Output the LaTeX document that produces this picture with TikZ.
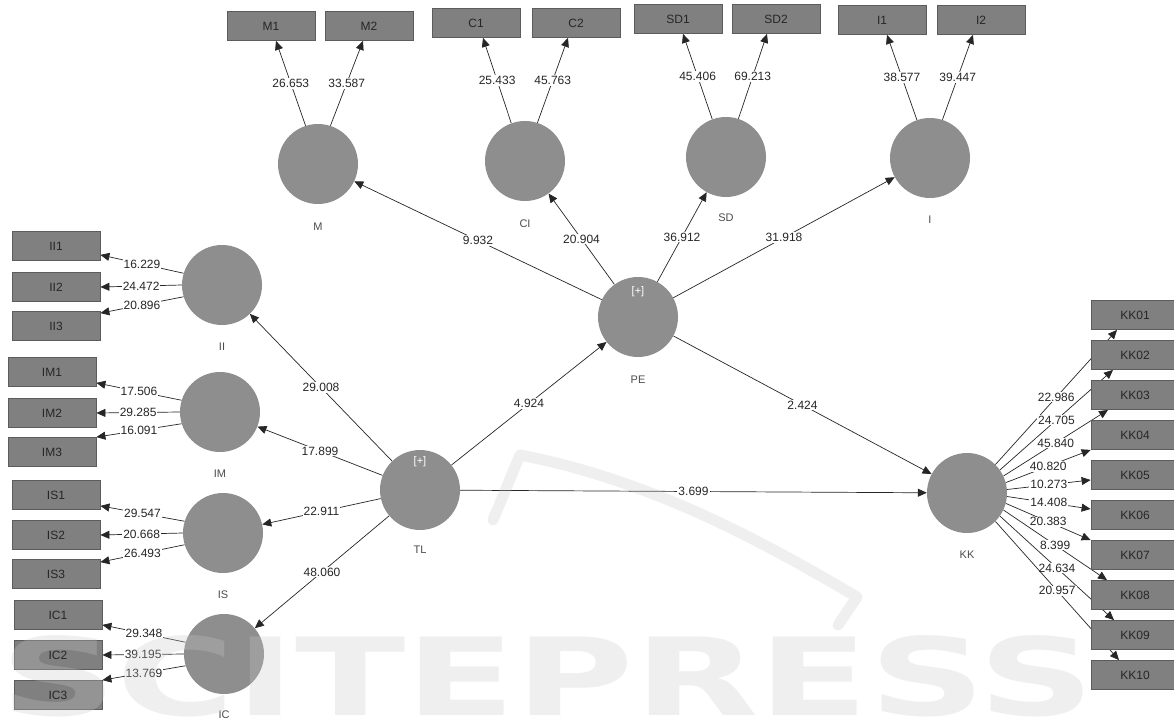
\documentclass[tikz,border=0pt]{standalone}
\usepackage{fontspec}
\setmainfont{Liberation Sans}
\newfontfamily\wmfont{DejaVu Sans}
\usetikzlibrary{arrows.meta}
\definecolor{circ}{RGB}{142,142,142}
\definecolor{boxf}{RGB}{128,128,128}
\definecolor{boxd}{RGB}{92,92,92}
\definecolor{wm}{RGB}{200,200,200}
\pgfdeclarelayer{back}
\pgfdeclarelayer{edges}
\pgfdeclarelayer{front}
\pgfsetlayers{back,edges,main,front}
\begin{document}
\begin{tikzpicture}[x=1pt,y=-1pt,
 lat/.style={circle,fill=circ,minimum size=80pt,inner sep=0pt},
 ind/.style={rectangle,fill=boxf,draw=boxd,line width=0.8pt,minimum width=88pt,minimum height=29pt,inner sep=0pt,font=\fontsize{12}{13}\selectfont,text=black!85},
 captxt/.style={font=\fontsize{11}{12}\selectfont,text=black!70},
 plus/.style={font=\fontsize{11}{12}\selectfont,text=white},
 arr/.style={draw=black!85,line width=0.7pt,-{Triangle[length=9pt,width=8pt]}},
 val/.style={fill=white,inner sep=1pt,font=\fontsize{12}{13}\selectfont,text=black!85},
]
\begin{pgfonlayer}{back}
\fill[white] (0,0) rectangle (1174,722);
\end{pgfonlayer}
\useasboundingbox (0,0) rectangle (1174,722);

% latent variables
\node[lat] (M) at (318,164) {};
\node[lat] (CI) at (525,161) {};
\node[lat] (SD) at (726,157) {};
\node[lat] (I) at (930,158) {};
\node[lat] (II) at (222,285) {};
\node[lat] (IM) at (220,412) {};
\node[lat] (IS) at (223,533) {};
\node[lat] (IC) at (224,654) {};
\node[lat] (TL) at (420,490) {};
\node[lat] (PE) at (638,317) {};
\node[lat] (KK) at (967,493) {};

% captions
\node[captxt] (Mc) at (318,227) {M};
\node[captxt] (CIc) at (525,224) {CI};
\node[captxt] (SDc) at (726,218) {SD};
\node[captxt] (Ic) at (930,220) {I};
\node[captxt] (IIc) at (222,347) {II};
\node[captxt] (IMc) at (220,474) {IM};
\node[captxt] (ISc) at (223,595) {IS};
\node[captxt] (ICc) at (224,715) {IC};
\node[captxt] (TLc) at (420,550) {TL};
\node[captxt] (PEc) at (638,380) {PE};
\node[captxt] (KKc) at (967,555) {KK};
\node[plus] (TLp) at (420,462) {[+]};
\node[plus] (PEp) at (638,292) {[+]};

% indicators top
\node[ind] (M1) at (271,26) {M1};
\node[ind] (M2) at (369,26) {M2};
\node[ind] (C1) at (476,23) {C1};
\node[ind] (C2) at (576,23) {C2};
\node[ind] (SD1) at (678,19) {SD1};
\node[ind] (SD2) at (776,19) {SD2};
\node[ind] (I1) at (882,20) {I1};
\node[ind] (I2) at (981,20) {I2};

% indicators left
\node[ind] (II1) at (56,246) {II1};
\node[ind] (II2) at (56,287) {II2};
\node[ind] (II3) at (56,326) {II3};
\node[ind] (IM1) at (52,372) {IM1};
\node[ind] (IM2) at (52,413) {IM2};
\node[ind] (IM3) at (52,452) {IM3};
\node[ind] (IS1) at (56,495) {IS1};
\node[ind] (IS2) at (56,535) {IS2};
\node[ind] (IS3) at (56,574) {IS3};
\node[ind] (IC1) at (58,615) {IC1};
\node[ind] (IC2) at (58,655) {IC2};
\node[ind] (IC3) at (58,695) {IC3};

% indicators right
\foreach \k [count=\i from 0] in {01,02,03,04,05,06,07,08,09,10}{
  \node[ind] (KK\k) at (1135,315+40*\i) {KK\k};
}

\begin{pgfonlayer}{edges}
% top indicators
\draw[arr] (M.108) -- ([xshift=5pt]M1.south) node[val,midway]{26.653};
\draw[arr] (M.72) -- ([xshift=-6pt]M2.south) node[val,midway]{33.587};
\draw[arr] (CI.110) -- ([xshift=7pt]C1.south) node[val,midway]{25.433};
\draw[arr] (CI.72) -- ([xshift=-8pt]C2.south) node[val,midway]{45.763};
\draw[arr] (SD.110) -- ([xshift=5pt]SD1.south) node[val,midway]{45.406};
\draw[arr] (SD.72) -- ([xshift=-9pt]SD2.south) node[val,midway]{69.213};
\draw[arr] (I.109) -- ([xshift=5pt]I1.south) node[val,midway]{38.577};
\draw[arr] (I.72) -- ([xshift=-8pt]I2.south) node[val,midway]{39.447};
% left indicators
\draw[arr] (II.163) -- ([yshift=6pt]II1.south east) node[val,midway]{16.229};
\draw[arr] (II.180) -- (II2.east) node[val,midway]{24.472};
\draw[arr] (II.197) -- ([yshift=-2pt]II3.north east) node[val,midway]{20.896};
\draw[arr] (IM.163) -- ([yshift=4pt]IM1.south east) node[val,midway]{17.506};
\draw[arr] (IM.180) -- (IM2.east) node[val,midway]{29.285};
\draw[arr] (IM.197) -- (IM3.north east) node[val,midway]{16.091};
\draw[arr] (IS.163) -- ([yshift=4pt]IS1.south east) node[val,midway]{29.547};
\draw[arr] (IS.180) -- (IS2.east) node[val,midway]{20.668};
\draw[arr] (IS.197) -- ([yshift=-3pt]IS3.north east) node[val,midway]{26.493};
\draw[arr] (IC.163) -- ([yshift=5pt]IC1.south east) node[val,midway]{29.348};
\draw[arr] (IC.180) -- (IC2.east) node[val,midway]{39.195};
\draw[arr] (IC.197) -- (IC3.north east) node[val,midway]{13.769};
% right indicators
\draw[arr] (KK.45) -- ([xshift=-18pt]KK01.south) node[val,midway]{22.986};
\draw[arr] (KK.35) -- ([xshift=-22pt]KK02.south) node[val,midway]{24.705};
\draw[arr] (KK.25) -- ([xshift=-27pt]KK03.south) node[val,midway]{45.840};
\draw[arr] (KK.15) -- (KK04.south west) node[val,midway]{40.820};
\draw[arr] (KK.5) -- ([yshift=-5pt]KK05.west) node[val,midway]{10.273};
\draw[arr] (KK.-5) -- ([yshift=6pt]KK06.west) node[val,midway]{14.408};
\draw[arr] (KK.-15) -- (KK07.north west) node[val,midway]{20.383};
\draw[arr] (KK.-25) -- ([xshift=-28pt]KK08.north) node[val,midway]{8.399};
\draw[arr] (KK.-35) -- ([xshift=-21pt]KK09.north) node[val,midway]{24.634};
\draw[arr] (KK.-45) -- ([xshift=-16pt]KK10.north) node[val,midway]{20.957};
% structural paths
\draw[arr] (PE) -- (M) node[val,midway]{9.932};
\draw[arr] (PE) -- (CI) node[val,midway]{20.904};
\draw[arr] (PE) -- (SD) node[val,midway]{36.912};
\draw[arr] (PE) -- (I) node[val,midway]{31.918};
\draw[arr] (TL) -- (PE) node[val,midway]{4.924};
\draw[arr] (TL) -- (KK) node[val,midway]{3.699};
\draw[arr] (PE) -- (KK) node[val,midway]{2.424};
\draw[arr] (TL) -- (II) node[val,midway]{29.008};
\draw[arr] (TL) -- (IM) node[val,midway]{17.899};
\draw[arr] (TL) -- (IS) node[val,midway]{22.911};
\draw[arr] (TL) -- (IC) node[val,midway]{48.060};
\end{pgfonlayer}

% watermark
\begin{pgfonlayer}{front}
\node[anchor=south west,inner sep=0pt,text=wm,opacity=0.28] (wmark) at (0,717) {\resizebox{1093pt}{80pt}{\wmfont\bfseries SCITEPRESS}};
\draw[wm,opacity=0.28,line width=11pt,line cap=round,line join=round] (493,520) -- (520,455) .. controls (650,480) and (760,540) .. (857,597) -- (838,625);
\end{pgfonlayer}
\end{tikzpicture}
\end{document}
